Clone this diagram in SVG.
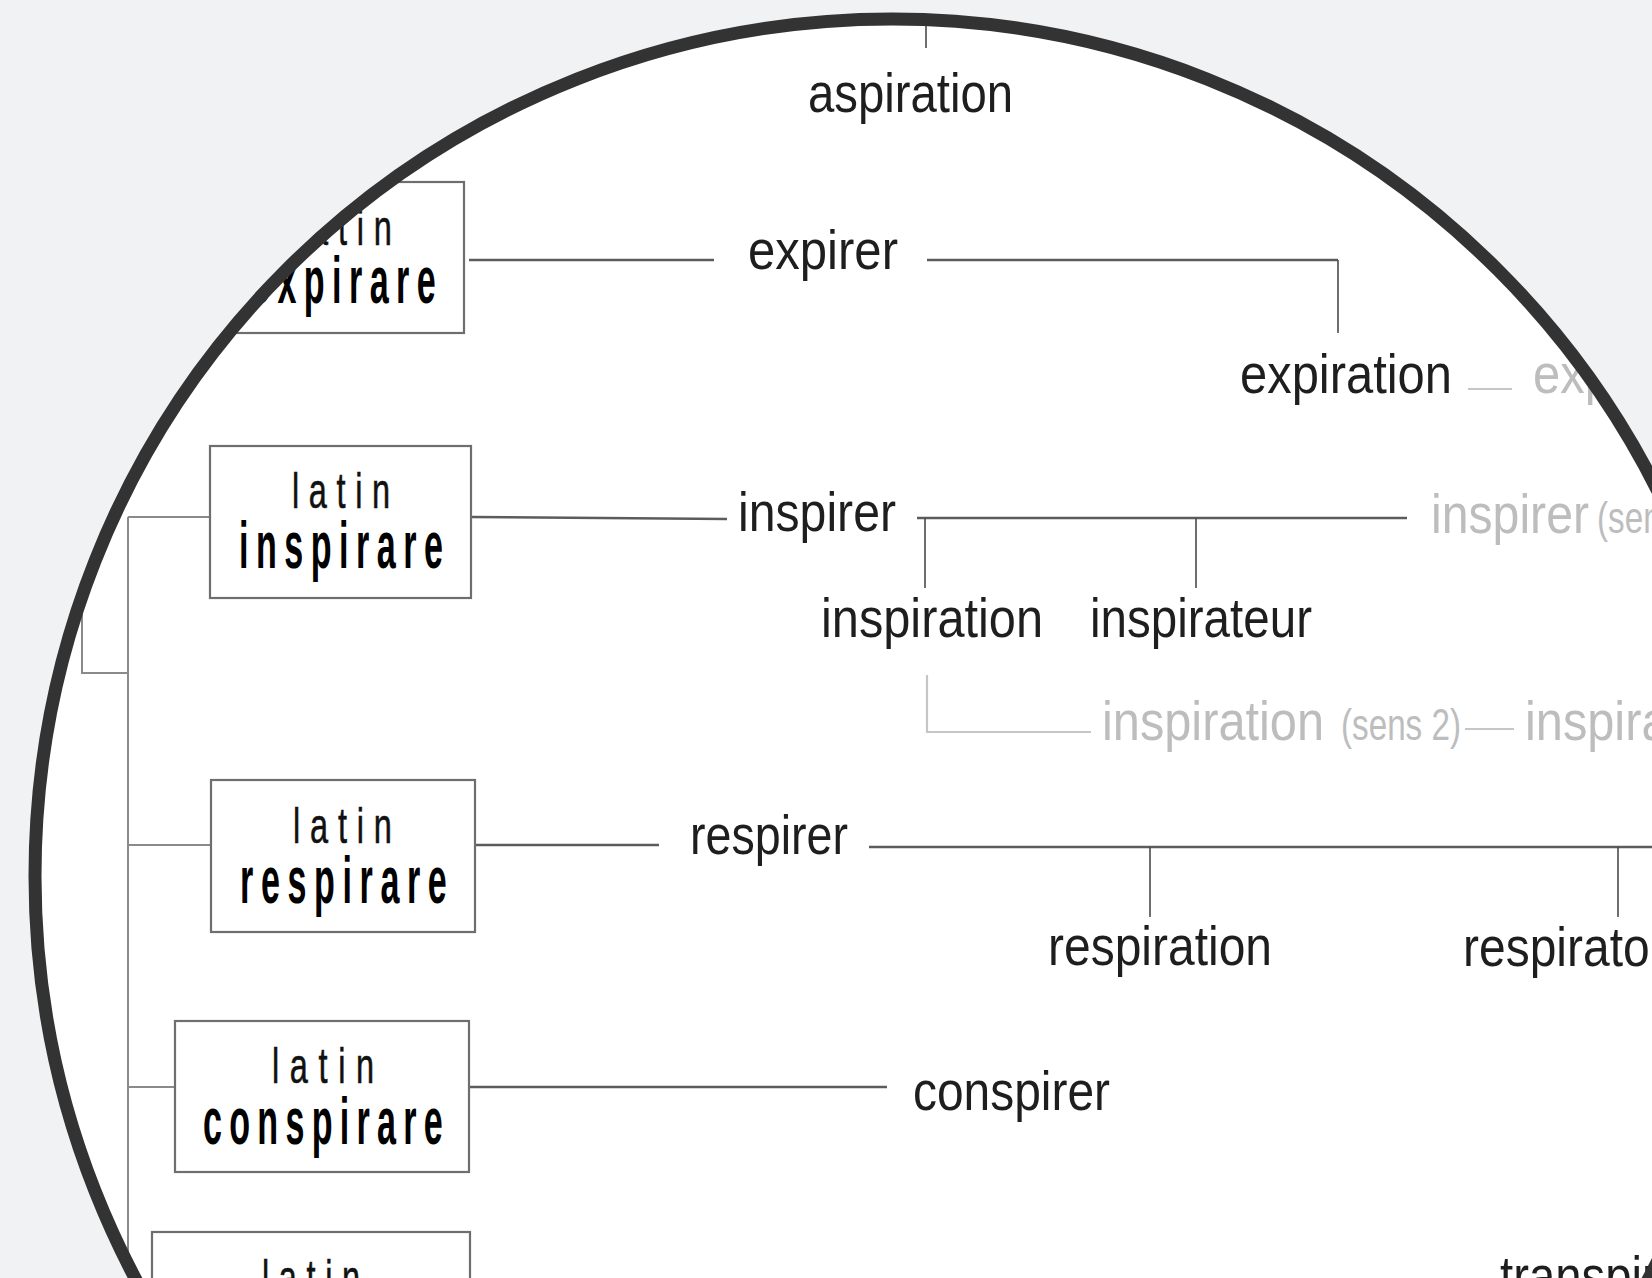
<svg xmlns="http://www.w3.org/2000/svg" width="1652" height="1278" viewBox="0 0 1652 1278">
  <style>
    .word { font-family: "Liberation Sans", Arial, sans-serif; font-size: 56px; fill: #1e1e1e; }
    .faded { fill: #bdbdbd; }
    .small { font-size: 44px; }
    .box { fill: #ffffff; stroke: #6e6e6e; stroke-width: 2.2; }
    .lat { font-family: "Liberation Sans", Arial, sans-serif; font-size: 50px; fill: #111; stroke: #111; stroke-width: 0.6; }
    .root { font-family: "Liberation Sans", Arial, sans-serif; font-size: 62px; font-weight: bold; fill: #000; }
    .link { fill: none; stroke: #5c5c5c; stroke-width: 2.4; }
    .tick { fill: none; stroke: #4a4a4a; stroke-width: 1.6; }
    .trunk { fill: none; stroke: #8a8a8a; stroke-width: 2; }
    .dim { fill: none; stroke: #c6c6c6; stroke-width: 2.2; }
  </style>
  <defs>
    <clipPath id="lens">
      <circle cx="892" cy="876" r="857"/>
    </clipPath>
  </defs>

  <rect x="0" y="0" width="1652" height="1278" fill="#f1f2f4"/>
  <circle cx="892" cy="876" r="857" fill="#ffffff"/>

  <g clip-path="url(#lens)">
    <!-- connectors -->
    <g id="connectors">
      <path class="tick" d="M926,0 V48"/>
      <path class="link" d="M469,260 H714"/>
      <path class="link" d="M927,260 H1338"/>
      <path class="tick" d="M1338,260 V333"/>
      <path class="trunk" d="M128,517 V1278"/>
      <path class="trunk" d="M82,540 V673 H128"/>
      <path class="trunk" d="M128,517 H210"/>
      <path class="link" d="M471,517 L727,519"/>
      <path class="link" d="M917,518 H1407"/>
      <path class="tick" d="M925,518 V588"/>
      <path class="tick" d="M1196,518 V588"/>
      <path class="dim" d="M927,675 V732 H1091"/>
      <path class="dim" d="M1468,389 H1512"/>
      <path class="dim" d="M1465,729 H1514"/>
      <path class="trunk" d="M128,845 H211"/>
      <path class="link" d="M475,845 H659"/>
      <path class="link" d="M869,847 H1652"/>
      <path class="tick" d="M1150,847 V917"/>
      <path class="tick" d="M1618,847 V917"/>
      <path class="trunk" d="M128,1087 H175"/>
      <path class="link" d="M469,1087 H887"/>
    </g>

    <!-- latin roots: narrow, letter-spaced lettering -->
    <g id="node-expirare">
      <rect class="box" x="205" y="182" width="259" height="151"/>
      <text class="lat" transform="translate(293,245) scale(0.65,1)" textLength="152" lengthAdjust="spacing">latin</text>
      <text class="root" transform="translate(251,303) scale(0.55,1.08)" textLength="336" lengthAdjust="spacing">expirare</text>
    </g>
    <g id="node-inspirare">
      <rect class="box" x="210" y="446" width="261" height="152"/>
      <text class="lat" transform="translate(292,508) scale(0.65,1)" textLength="151" lengthAdjust="spacing">latin</text>
      <text class="root" transform="translate(239,568) scale(0.55,1.08)" textLength="371" lengthAdjust="spacing">inspirare</text>
    </g>
    <g id="node-respirare">
      <rect class="box" x="211" y="780" width="264" height="152"/>
      <text class="lat" transform="translate(293,843) scale(0.65,1)" textLength="152" lengthAdjust="spacing">latin</text>
      <text class="root" transform="translate(240,903) scale(0.55,1.08)" textLength="376" lengthAdjust="spacing">respirare</text>
    </g>
    <g id="node-conspirare">
      <rect class="box" x="175" y="1021" width="294" height="151"/>
      <text class="lat" transform="translate(272,1083) scale(0.65,1)" textLength="157" lengthAdjust="spacing">latin</text>
      <text class="root" transform="translate(203,1144) scale(0.55,1.08)" textLength="436" lengthAdjust="spacing">conspirare</text>
    </g>
    <g id="node-transpirare">
      <rect class="box" x="152" y="1232" width="318" height="151"/>
      <text class="lat" transform="translate(262,1295) scale(0.65,1)" textLength="151" lengthAdjust="spacing">latin</text>
    </g>

    <!-- French words -->
    <g id="node-aspiration"><text class="word" x="808" y="112" textLength="205" lengthAdjust="spacingAndGlyphs">aspiration</text></g>
    <g id="node-expirer"><text class="word" x="748" y="269" textLength="150" lengthAdjust="spacingAndGlyphs">expirer</text></g>
    <g id="node-expiration"><text class="word" x="1240" y="393" textLength="212" lengthAdjust="spacingAndGlyphs">expiration</text></g>
    <g id="node-expiration-2"><text class="word faded" x="1533" y="393" textLength="212" lengthAdjust="spacingAndGlyphs">expiration</text></g>
    <g id="node-inspirer"><text class="word" x="738" y="531" textLength="158" lengthAdjust="spacingAndGlyphs">inspirer</text></g>
    <g id="node-inspirer-2">
      <text class="word faded" x="1431" y="533" textLength="158" lengthAdjust="spacingAndGlyphs">inspirer</text>
      <text class="word faded small" x="1597" y="533" textLength="120" lengthAdjust="spacingAndGlyphs">(sens 2)</text>
    </g>
    <g id="node-inspiration"><text class="word" x="821" y="637" textLength="222" lengthAdjust="spacingAndGlyphs">inspiration</text></g>
    <g id="node-inspirateur"><text class="word" x="1090" y="637" textLength="222" lengthAdjust="spacingAndGlyphs">inspirateur</text></g>
    <g id="node-inspiration-2">
      <text class="word faded" x="1102" y="740" textLength="222" lengthAdjust="spacingAndGlyphs">inspiration</text>
      <text class="word faded small" x="1341" y="740" textLength="120" lengthAdjust="spacingAndGlyphs">(sens 2)</text>
    </g>
    <g id="node-inspiration-3"><text class="word faded" x="1525" y="740" textLength="222" lengthAdjust="spacingAndGlyphs">inspiration</text></g>
    <g id="node-respirer"><text class="word" x="690" y="854" textLength="158" lengthAdjust="spacingAndGlyphs">respirer</text></g>
    <g id="node-respiration"><text class="word" x="1048" y="965" textLength="224" lengthAdjust="spacingAndGlyphs">respiration</text></g>
    <g id="node-respiratoire"><text class="word" x="1463" y="966" textLength="240" lengthAdjust="spacingAndGlyphs">respiratoire</text></g>
    <g id="node-conspirer"><text class="word" x="913" y="1110" textLength="197" lengthAdjust="spacingAndGlyphs">conspirer</text></g>
    <g id="node-transpirer"><text class="word" x="1500" y="1295" textLength="200" lengthAdjust="spacingAndGlyphs">transpirer</text></g>
  </g>

  <!-- lens rim -->
  <circle cx="892" cy="876" r="857" fill="none" stroke="#333333" stroke-width="13"/>
</svg>
